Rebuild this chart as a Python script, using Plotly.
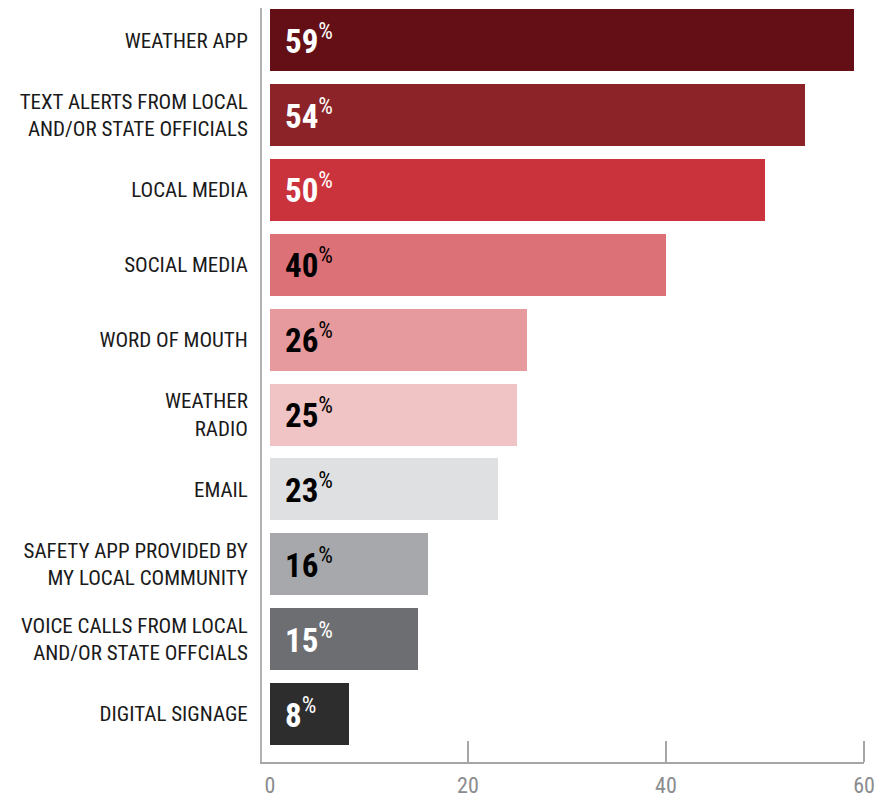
import plotly.graph_objects as go

# Sources used to receive emergency alerts (share of respondents, %)
categories = [
    "WEATHER APP",
    "TEXT ALERTS FROM LOCAL<br>AND/OR STATE OFFICIALS",
    "LOCAL MEDIA",
    "SOCIAL MEDIA",
    "WORD OF MOUTH",
    "WEATHER<br>RADIO",
    "EMAIL",
    "SAFETY APP PROVIDED BY<br>MY LOCAL COMMUNITY",
    "VOICE CALLS FROM LOCAL<br>AND/OR STATE OFFCIALS",
    "DIGITAL SIGNAGE",
]
values = [59, 54, 50, 40, 26, 25, 23, 16, 15, 8]
bar_colors = [
    "#640f15", "#8b2329", "#cb333c", "#dc7277", "#e69a9d",
    "#f0c3c5", "#dfe0e2", "#a7a8ab", "#6d6e71", "#2d2d2d",
]
label_colors = [
    "#ffffff", "#ffffff", "#ffffff", "#000000", "#000000",
    "#000000", "#000000", "#000000", "#ffffff", "#ffffff",
]
x_ticks = [0, 20, 40, 60]

FONT = "Liberation Sans Narrow, Roboto Condensed, Arial Narrow, sans-serif"
positions = list(range(len(categories)))

fig = go.Figure(
    go.Bar(
        x=values,
        y=positions,
        orientation="h",
        width=0.828,
        marker=dict(color=bar_colors, line=dict(width=0)),
        hoverinfo="skip",
    )
)

# value labels at the start of each bar
for pos, val, col in zip(positions, values, label_colors):
    fig.add_annotation(
        x=0,
        y=pos,
        xref="x",
        yref="y",
        xanchor="left",
        yanchor="middle",
        xshift=13,
        yshift=1,
        showarrow=False,
        text=f"<b>{val}</b><sup>%</sup>",
        font=dict(family=FONT, size=33, color=col),
    )

fig.update_layout(
    width=890,
    height=798,
    margin=dict(l=262, r=26, t=8, b=36),
    paper_bgcolor="white",
    plot_bgcolor="white",
    showlegend=False,
    bargap=0,
)

fig.update_xaxes(
    range=[-0.8, 60],
    automargin=False,
    tickvals=x_ticks,
    ticktext=[str(t) for t in x_ticks],
    ticks="",
    showgrid=False,
    zeroline=False,
    showline=True,
    linecolor="#a6a6a6",
    linewidth=2,
    tickfont=dict(family=FONT, size=22, color="#8a8c8f"),
    ticklabelstandoff=3,
    minor=dict(
        tickvals=x_ticks[1:],
        ticks="inside",
        ticklen=21,
        tickwidth=1.5,
        tickcolor="#a6a6a6",
        showgrid=False,
    ),
)

fig.update_yaxes(
    range=[9.64, -0.43],
    automargin=False,
    tickvals=positions,
    ticktext=categories,
    ticks="",
    showgrid=False,
    zeroline=False,
    showline=True,
    linecolor="#b3b3b3",
    linewidth=2,
    tickfont=dict(family=FONT, size=21, color="#1a1a1a"),
    ticklabelstandoff=8,
)

fig.write_html("out.html")
